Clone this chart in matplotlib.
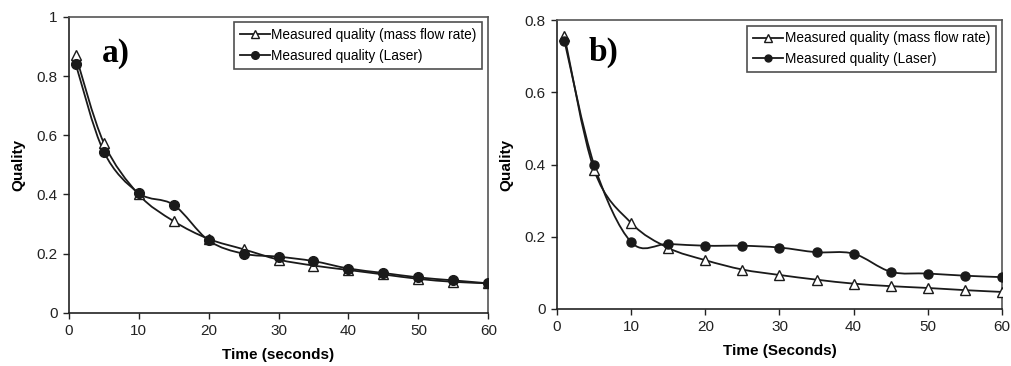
import numpy as np
import matplotlib.pyplot as plt
from matplotlib.path import Path
from matplotlib.patches import PathPatch
from matplotlib.lines import Line2D

# time axis (seconds)
time_s = [1, 5, 10, 15, 20, 25, 30, 35, 40, 45, 50, 55, 60]

# panel a
mass_a = [0.87, 0.575, 0.40, 0.31, 0.25, 0.215, 0.18, 0.16, 0.145, 0.13, 0.115, 0.105, 0.10]
laser_a = [0.84, 0.545, 0.405, 0.365, 0.245, 0.20, 0.19, 0.175, 0.15, 0.135, 0.12, 0.11, 0.10]

# panel b
mass_b = [0.756, 0.385, 0.238, 0.169, 0.135, 0.109, 0.094, 0.081, 0.070, 0.063, 0.058, 0.052, 0.047]
laser_b = [0.742, 0.399, 0.185, 0.180, 0.175, 0.175, 0.170, 0.157, 0.153, 0.103, 0.098, 0.092, 0.088]

LINE_COLOR = '#1a1a1a'
plt.rcParams['font.family'] = ['Liberation Sans', 'DejaVu Sans']


def smooth_path(x, y):
    # Excel style smoothed line: cubic bezier through the points (catmull-rom)
    x = np.asarray(x, float)
    y = np.asarray(y, float)
    verts = [(x[0], y[0])]
    codes = [Path.MOVETO]
    n = len(x)
    for i in range(n - 1):
        p0 = (x[max(i - 1, 0)], y[max(i - 1, 0)])
        p1 = (x[i], y[i])
        p2 = (x[i + 1], y[i + 1])
        p3 = (x[min(i + 2, n - 1)], y[min(i + 2, n - 1)])
        c1 = (p1[0] + (p2[0] - p0[0]) / 6, p1[1] + (p2[1] - p0[1]) / 6)
        c2 = (p2[0] - (p3[0] - p1[0]) / 6, p2[1] - (p3[1] - p1[1]) / 6)
        verts += [c1, c2, p2]
        codes += [Path.CURVE4] * 3
    return Path(verts, codes)


def draw_panel(ax, mass, laser, ymax, ystep, letter, letter_pos, xlabel, ms):
    for vals in (mass, laser):
        ax.add_patch(PathPatch(smooth_path(time_s, vals), facecolor='none',
                               edgecolor=LINE_COLOR, lw=1.3, zorder=2))
    ax.plot(time_s, mass, ls='none', marker='^', ms=ms, mfc='white', mec=LINE_COLOR, mew=1.0, zorder=3)
    ax.plot(time_s, laser, ls='none', marker='o', ms=ms - 0.5, mfc=LINE_COLOR, mec=LINE_COLOR, zorder=4)

    ax.set_xlim(0, 60)
    ax.set_ylim(0, ymax)
    ax.set_xticks(range(0, 61, 10))
    yt = np.arange(0, ymax + 1e-9, ystep)
    ax.set_yticks(yt)
    ax.set_yticklabels(['0' if v == 0 else ('1' if v == 1 else f'{v:.1f}') for v in yt])
    ax.tick_params(direction='out', length=4, width=1, labelsize=11, colors='#222222', pad=4)
    for s in ax.spines.values():
        s.set_color('#555555')
        s.set_linewidth(1.2)
    ax.spines['left'].set_color('#222222')
    ax.spines['bottom'].set_color('#222222')
    ax.set_xlabel(xlabel, fontsize=11, fontweight='bold', labelpad=7)
    ax.set_ylabel('Quality', fontsize=11, fontweight='bold', labelpad=8)

    handles = [
        Line2D([], [], color=LINE_COLOR, lw=1.3, marker='^', ms=ms - 1.5, mfc='white', mec=LINE_COLOR),
        Line2D([], [], color=LINE_COLOR, lw=1.3, marker='o', ms=ms - 2, mfc=LINE_COLOR, mec=LINE_COLOR),
    ]
    leg = ax.legend(handles, ['Measured quality (mass flow rate)', 'Measured quality (Laser)'],
                    loc='upper right', bbox_to_anchor=(0.995, 0.995), fontsize=9.8, frameon=True,
                    fancybox=False, edgecolor='#222222', handlelength=2.2, handletextpad=0.1,
                    borderpad=0.42, labelspacing=0.5, borderaxespad=0.3)
    leg.get_frame().set_linewidth(1.2)

    ax.text(letter_pos[0], letter_pos[1], letter, transform=ax.transAxes, fontsize=24,
            fontweight='bold', family='Liberation Serif', va='center', ha='left')


fig = plt.figure(figsize=(10.11, 3.66), dpi=100)
ax1 = fig.add_axes([0.068, 0.145, 0.415, 0.809])
ax2 = fig.add_axes([0.551, 0.156, 0.440, 0.789])

draw_panel(ax1, mass_a, laser_a, 1.0, 0.2, 'a)', (0.08, 0.875), 'Time (seconds)', 7.5)
draw_panel(ax2, mass_b, laser_b, 0.8, 0.2, 'b)', (0.07, 0.89), 'Time (Seconds)', 7)

fig.savefig('out.png', dpi=100)
